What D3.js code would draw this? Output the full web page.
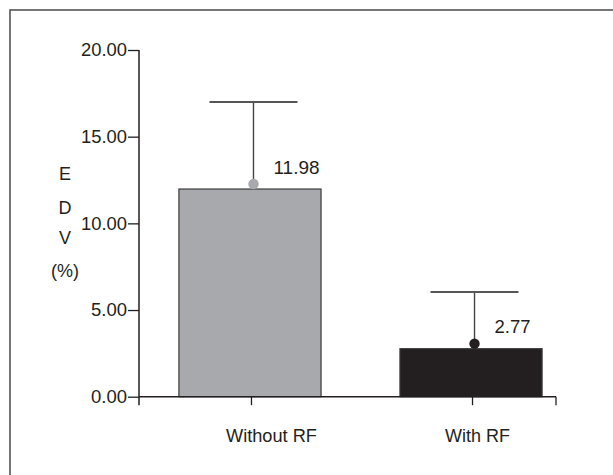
<!DOCTYPE html>
<html>
<head>
<meta charset="utf-8">
<script src="https://cdn.jsdelivr.net/npm/d3@7"></script>
<style>
  html, body { margin: 0; padding: 0; background: #fff; }
  svg { display: block; }
  text { font-family: "Liberation Sans", Arial, Helvetica, sans-serif; fill: #231f20; }
</style>
</head>
<body>
<svg id="chart" width="613" height="475"></svg>
<script>
// ---- data ----
const categories = ["Without RF", "With RF"];
const means = [11.98, 2.77];
const sds = [5.02, 3.27];
const valueLabels = ["11.98", "2.77"];
const yTicks = [0, 5, 10, 15, 20];
const yTitle = ["E", "D", "V", "(%)"];

// ---- styles ----
const barFill = ["#a7a9ac", "#231f20"];
const dotFill = ["#a7a9ac", "#231f20"];
const ink = "#231f20";

const svg = d3.select("#chart");

// frame (extends past right/bottom edge)
svg.append("rect")
  .attr("x", 10).attr("y", 10)
  .attr("width", 700).attr("height", 600)
  .attr("fill", "none").attr("stroke", "#555").attr("stroke-width", 1.6);

const y0 = 396.7, yTop = 50;
const y = d3.scaleLinear().domain([0, 20]).range([y0, yTop]);
const x = d3.scaleBand().domain(categories).range([100, 621])
  .paddingInner(0.357).paddingOuter(0.357);

const axisX0 = 139, axisX1 = 556;

// y axis
const gy = svg.append("g").attr("transform", `translate(${axisX0},0)`)
  .call(d3.axisLeft(y).tickValues(yTicks).tickFormat(d3.format(".2f")).tickSize(11).tickPadding(1).tickSizeOuter(0));
gy.select(".domain").remove();
gy.selectAll(".tick line").attr("stroke", ink).attr("stroke-width", 1.3);
gy.selectAll(".tick text").style("font-size", "19px").attr("dy", "0.3em").attr("fill", ink)
  .attr("textLength", 46).attr("lengthAdjust", "spacingAndGlyphs");
gy.selectAll(".tick text").filter(d => d < 10).attr("textLength", 36);
svg.append("line").attr("x1", axisX0).attr("x2", axisX0)
  .attr("y1", y(20)).attr("y2", y0 + 8.5)
  .attr("stroke", ink).attr("stroke-width", 1.5);

// bars
svg.selectAll("rect.bar").data(categories).enter().append("rect")
  .attr("class", "bar")
  .attr("x", d => x(d))
  .attr("width", x.bandwidth())
  .attr("y", (d, i) => y(means[i]))
  .attr("height", (d, i) => y0 - y(means[i]))
  .attr("fill", (d, i) => barFill[i])
  .attr("stroke", "#3a3a3a").attr("stroke-width", 1.2);

// x axis
const gx = svg.append("g").attr("transform", `translate(0,${y0})`)
  .call(d3.axisBottom(x).tickSize(8.5).tickFormat("").tickSizeOuter(0));
gx.select(".domain").remove();
gx.selectAll(".tick").attr("transform", d => `translate(${x(d) + x.bandwidth() / 2 + 1.5},0)`);
gx.selectAll(".tick line").attr("stroke", ink).attr("stroke-width", 1.3);
svg.append("line").attr("x1", axisX0).attr("x2", axisX1)
  .attr("y1", y0).attr("y2", y0).attr("stroke", ink).attr("stroke-width", 1.5);
svg.append("line").attr("x1", axisX1).attr("x2", axisX1)
  .attr("y1", y0).attr("y2", y0 + 8.5).attr("stroke", ink).attr("stroke-width", 1.3);

// category labels
const labelDx = [20, 5];
svg.selectAll("text.cat").data(categories).enter().append("text")
  .attr("class", "cat")
  .attr("x", (d, i) => x(d) + x.bandwidth() / 2 + 1.5 + labelDx[i])
  .attr("y", 441.7)
  .attr("text-anchor", "middle")
  .style("font-size", "19px")
  .attr("textLength", (d, i) => [91, 65][i])
  .attr("lengthAdjust", "spacingAndGlyphs")
  .text(d => d);

// error bars
const stemX = (d) => x(d) + x.bandwidth() / 2 + 3.5;
svg.selectAll("line.stem").data(categories).enter().append("line")
  .attr("x1", stemX).attr("x2", stemX)
  .attr("y1", (d, i) => y(means[i]))
  .attr("y2", (d, i) => y(means[i] + sds[i]))
  .attr("stroke", "#444").attr("stroke-width", 1.4);
svg.selectAll("line.cap").data(categories).enter().append("line")
  .attr("x1", d => stemX(d) - 44).attr("x2", d => stemX(d) + 44)
  .attr("y1", (d, i) => y(means[i] + sds[i]))
  .attr("y2", (d, i) => y(means[i] + sds[i]))
  .attr("stroke", "#555").attr("stroke-width", 2);

// mean dots
svg.selectAll("circle.dot").data(categories).enter().append("circle")
  .attr("cx", stemX)
  .attr("cy", (d, i) => y(means[i]) - 5)
  .attr("r", 5.2)
  .attr("fill", (d, i) => dotFill[i]);

// value labels
svg.selectAll("text.val").data(categories).enter().append("text")
  .attr("x", d => stemX(d) + 20)
  .attr("y", (d, i) => y(means[i]) - 15.5)
  .style("font-size", "19px")
  .attr("textLength", (d, i) => [46, 36][i])
  .attr("lengthAdjust", "spacingAndGlyphs")
  .text((d, i) => valueLabels[i]);

// y title (stacked)
const titleY = [180, 214, 244, 277];
svg.selectAll("text.yt").data(yTitle).enter().append("text")
  .attr("x", 65).attr("y", (d, i) => titleY[i])
  .attr("text-anchor", "middle")
  .style("font-size", "18px")
  .text(d => d);
</script>
</body>
</html>
